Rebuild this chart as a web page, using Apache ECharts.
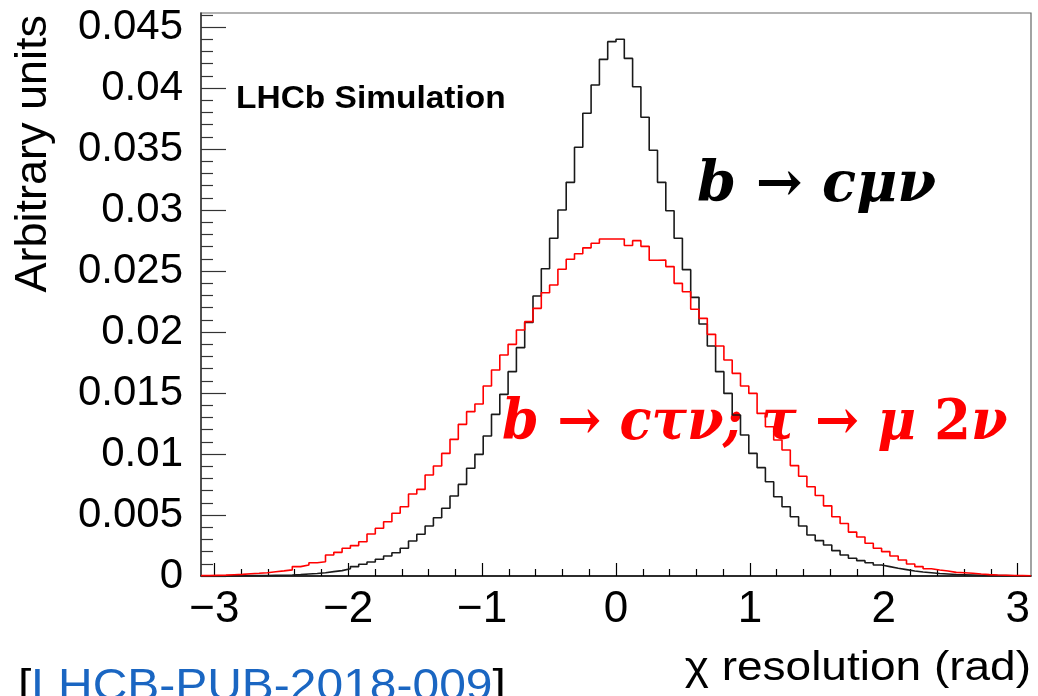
<!DOCTYPE html>
<html><head><meta charset="utf-8">
<script src="https://cdn.jsdelivr.net/npm/echarts@6/dist/echarts.min.js"></script>
<style>html,body{margin:0;padding:0;background:#fff}#c{width:1038px;height:696px}</style>
</head><body><div id="c"></div>
<script>
// Histogram binning (100 bins over the plotted range)
const binMin = -3.1;
const binMax = 3.1;

// b -> c mu nu (black), one value per bin
const bcmunu = [
0.00001,0.00001,0.00001,0.00002,0.00002,0.00003,0.00003,0.00004,0.00005,0.00006,
0.00008,0.00011,0.00016,0.00020,0.00027,0.00036,0.00044,0.00060,0.00077,0.00096,
0.00115,0.00137,0.00164,0.00191,0.00227,0.00287,0.00342,0.00410,0.00478,0.00555,
0.00656,0.00751,0.00883,0.00997,0.01148,0.01325,0.01489,0.01675,0.01872,0.02079,
0.02295,0.02518,0.02768,0.03000,0.03227,0.03514,0.03793,0.04025,0.04235,0.04380,
0.04400,0.04243,0.04010,0.03760,0.03490,0.03227,0.02994,0.02768,0.02511,0.02284,
0.02066,0.01885,0.01675,0.01497,0.01320,0.01156,0.01005,0.00888,0.00773,0.00650,
0.00568,0.00486,0.00410,0.00336,0.00290,0.00254,0.00208,0.00172,0.00145,0.00126,
0.00109,0.00090,0.00077,0.00063,0.00052,0.00041,0.00033,0.00027,0.00020,0.00016,
0.00012,0.00010,0.00008,0.00006,0.00005,0.00004,0.00003,0.00002,0.00001,0.00001
];

// b -> c tau nu; tau -> mu 2nu (red), one value per bin
const bctaunu = [
0.00003,0.00005,0.00007,0.00010,0.00013,0.00018,0.00022,0.00027,0.00035,0.00042,
0.00050,0.00077,0.00090,0.00109,0.00117,0.00172,0.00194,0.00227,0.00249,0.00281,
0.00344,0.00391,0.00445,0.00514,0.00568,0.00672,0.00710,0.00828,0.00902,0.01005,
0.01120,0.01243,0.01347,0.01410,0.01557,0.01689,0.01811,0.01899,0.02016,0.02085,
0.02194,0.02322,0.02385,0.02514,0.02596,0.02641,0.02690,0.02727,0.02762,0.02762,
0.02762,0.02709,0.02749,0.02702,0.02588,0.02590,0.02536,0.02399,0.02330,0.02186,
0.02112,0.01981,0.01885,0.01770,0.01661,0.01557,0.01497,0.01333,0.01224,0.01115,
0.01033,0.00905,0.00818,0.00732,0.00660,0.00575,0.00486,0.00430,0.00360,0.00320,
0.00268,0.00227,0.00200,0.00164,0.00131,0.00098,0.00077,0.00060,0.00049,0.00041,
0.00030,0.00027,0.00022,0.00016,0.00011,0.00008,0.00006,0.00004,0.00003,0.00002
];

const xTicks = [-3, -2, -1, 0, 1, 2, 3];
const yTicks = [0, 0.005, 0.01, 0.015, 0.02, 0.025, 0.03, 0.035, 0.04, 0.045];
const yTickLabels = ['0','0.005','0.01','0.015','0.02','0.025','0.03','0.035','0.04','0.045'];
const yMax = 0.04615;

const xTitle = 'χ resolution (rad)';
const yTitle = 'Arbitrary units';
const label1 = 'LHCb Simulation';
const refText = 'LHCB-PUB-2018-009';

function stepData(vals) {
  const n = vals.length, w = (binMax - binMin) / n;
  const out = vals.map((v, i) => [binMin + i * w, v]);
  out.push([binMax, vals[n - 1]]);
  return out;
}
const xMinor = [], yMinor = [];
for (let k = -15; k <= 15; k++) if (k % 5 !== 0) xMinor.push(+(k * 0.2).toFixed(2));
for (let k = 0; k <= 46; k++) if (k % 5 !== 0) yMinor.push(+(k * 0.001).toFixed(3));

const FONT = '"Liberation Sans", Arial, Helvetica, sans-serif';
const SERIF = '"DejaVu Serif", "Liberation Serif", serif';

const chart = echarts.init(document.getElementById('c'), null, {renderer: 'canvas'});
chart.setOption({
  animation: false,
  backgroundColor: '#fff',
  grid: {left: 201, right: 7, top: 13, bottom: 120, show: true, borderColor: '#666', borderWidth: 1.2, backgroundColor: 'transparent'},
  xAxis: [{
    type: 'value', min: binMin, max: binMax, position: 'bottom',
    axisLine: {show: true, onZero: false, lineStyle: {color: '#000', width: 1.5}},
    axisTick: {show: true, inside: true, length: 13, customValues: xTicks, lineStyle: {color: '#000', width: 1.2}},
    axisLabel: {show: true, customValues: xTicks, margin: 12, fontSize: 44, fontFamily: FONT, color: '#000',
      formatter: v => (v < 0 ? '\u2212' + Math.abs(v) : String(v))},
    splitLine: {show: false}
  }, {
    type: 'value', min: binMin, max: binMax, position: 'bottom',
    axisLine: {show: false, onZero: false},
    axisTick: {show: true, inside: true, length: 7, customValues: xMinor, lineStyle: {color: '#000', width: 1.2}},
    axisLabel: {show: false}, splitLine: {show: false}
  }],
  yAxis: [{
    type: 'value', min: 0, max: yMax, position: 'left',
    axisLine: {show: true, onZero: false, lineStyle: {color: '#333', width: 1.5}},
    axisTick: {show: true, inside: true, length: 25, customValues: yTicks, lineStyle: {color: '#333', width: 1.2}},
    axisLabel: {show: true, customValues: yTicks, margin: 18, fontSize: 42, fontFamily: FONT, color: '#000',
      formatter: v => { const i = yTicks.findIndex(t => Math.abs(t - v) < 1e-9); return i >= 0 ? yTickLabels[i] : ''; }},
    splitLine: {show: false}
  }, {
    type: 'value', min: 0, max: yMax, position: 'left',
    axisLine: {show: false, onZero: false},
    axisTick: {show: true, inside: true, length: 12, customValues: yMinor, lineStyle: {color: '#333', width: 1.2}},
    axisLabel: {show: false}, splitLine: {show: false}
  }],
  series: [{
    name: 'b → cμν', type: 'line', step: 'end', xAxisIndex: 0, yAxisIndex: 0,
    data: stepData(bcmunu), showSymbol: false, symbol: 'none',
    lineStyle: {color: '#1a1a1a', width: 1.6}, z: 3
  }, {
    name: 'b → cτν; τ → μ 2ν', type: 'line', step: 'end', xAxisIndex: 0, yAxisIndex: 0,
    data: stepData(bctaunu), showSymbol: false, symbol: 'none',
    lineStyle: {color: '#ff0000', width: 1.6}, z: 4
  }],
  graphic: [
    {type: 'text', x: 34, y: 15, rotation: Math.PI / 2, style: {text: yTitle, font: '45px ' + FONT, fill: '#000', align: 'right', verticalAlign: 'middle', textAlign: 'right', textVerticalAlign: 'middle'}},
    {type: 'text', x: 1031, y: 669, scaleX: 1.15, style: {text: xTitle, font: '40px ' + FONT, fill: '#000', align: 'right', verticalAlign: 'middle', textAlign: 'right', textVerticalAlign: 'middle'}},
    {type: 'text', x: 236, y: 99, scaleX: 1.08, style: {text: label1, font: 'bold 31px ' + FONT, fill: '#000', align: 'left', verticalAlign: 'middle', textAlign: 'left', textVerticalAlign: 'middle'}},
    {type: 'text', x: 697, y: 186, style: {text: '{i|b → cμν}', align: 'left', verticalAlign: 'middle',
      rich: {i: {fontFamily: SERIF, fontStyle: 'italic', fontWeight: 'bold', fontSize: 56, fill: '#000'}}}},
    {type: 'text', x: 502, y: 424, scaleX: 0.94, style: {text: '{i|b → cτν; τ → μ }{n|2}{i|ν}', align: 'left', verticalAlign: 'middle',
      rich: {i: {fontFamily: SERIF, fontStyle: 'italic', fontWeight: 'bold', fontSize: 56, fill: '#ff0000'},
             n: {fontFamily: SERIF, fontStyle: 'normal', fontWeight: 'bold', fontSize: 56, fill: '#ff0000'}}}},
    {type: 'text', x: 18, y: 688, scaleX: 1.09, style: {text: '{k|[}{b|' + refText + '}{k|]}', align: 'left', verticalAlign: 'middle',
      rich: {k: {fontFamily: FONT, fontSize: 44, fill: '#000'}, b: {fontFamily: FONT, fontSize: 44, fill: '#1a66c2'}}}}
  ]
});
</script>
</body></html>
